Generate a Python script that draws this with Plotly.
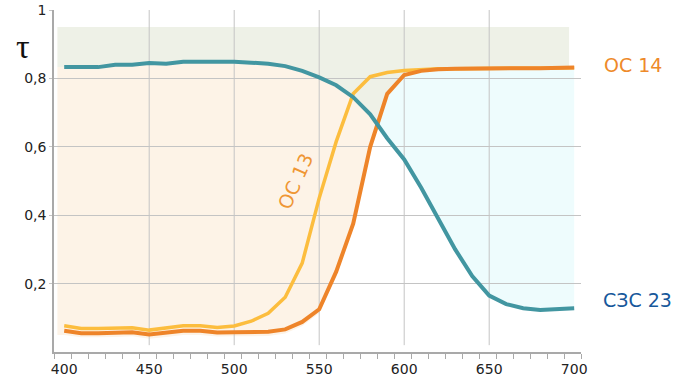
import numpy as np
import plotly.graph_objects as go

# ---- data ----
wavelength = [400, 410, 420, 430, 440, 450, 460, 470, 480, 490, 500, 510, 520, 530, 540,
              550, 560, 570, 580, 590, 600, 610, 620, 630, 640, 650, 660, 670, 680, 690, 700]
szs23 = [0.833, 0.833, 0.833, 0.840, 0.840, 0.845, 0.843, 0.849, 0.849, 0.849, 0.849, 0.846,
         0.843, 0.836, 0.822, 0.803, 0.780, 0.745, 0.695, 0.625, 0.563, 0.480, 0.390, 0.300,
         0.222, 0.165, 0.140, 0.128, 0.123, 0.125, 0.128]
os14 = [0.062, 0.055, 0.055, 0.056, 0.058, 0.051, 0.056, 0.062, 0.062, 0.057, 0.058, 0.058,
        0.059, 0.066, 0.088, 0.125, 0.235, 0.375, 0.600, 0.755, 0.810, 0.822, 0.827, 0.828,
        0.829, 0.830, 0.830, 0.830, 0.830, 0.832, 0.832]
os13 = [0.077, 0.069, 0.069, 0.070, 0.071, 0.064, 0.070, 0.077, 0.077, 0.072, 0.076, 0.090,
        0.113, 0.160, 0.260, 0.450, 0.615, 0.755, 0.805, 0.817, 0.823, 0.826, 0.828, 0.828,
        0.829, 0.830, 0.830, 0.830, 0.830, 0.831, 0.831]

x_ticks = [400, 450, 500, 550, 600, 650, 700]
x_grid = [450, 500, 550, 600, 650]
y_ticks = [0.2, 0.4, 0.6, 0.8, 1.0]
y_tick_labels = ["0,2", "0,4", "0,6", "0,8", "1"]

# ---- styles ----
C_TEAL = "#4296a1"
C_ORANGE = "#ee8429"
C_YELLOW = "#fcbd3e"
F_GREEN = "#eef1e7"
F_PEACH = "#fdf3e7"
F_CYAN = "#eefcfd"
GRID = "#c4c4c4"
AXIS = "#a9a9a9"
FILL_LEFT = 396
FILL_RIGHT = 697
FILL_TOP = 0.95
PEACH_PAD = 0.012

x = np.array(wavelength, float)
t = np.array(szs23, float)
o = np.array(os14, float)

# crossing of СЗС 23 and ОС 14
d = t - o
i = int(np.where((d[:-1] > 0) & (d[1:] <= 0))[0][0])
f = d[i] / (d[i] - d[i + 1])
xc = x[i] + f * (x[i + 1] - x[i])
yc = t[i] + f * (t[i + 1] - t[i])


def path(pts):
    return "M " + " L ".join(f"{px:.3f},{py:.4f}" for px, py in pts) + " Z"


# green: above upper envelope
env_x = np.array(list(x[: i + 1]) + [xc] + list(x[i + 1:]))
env_y = np.array(list(np.maximum(t, o)[: i + 1]) + [yc] + list(np.maximum(t, o)[i + 1:]))
mask = env_x <= FILL_RIGHT
gx = [FILL_LEFT] + list(env_x[mask]) + [FILL_RIGHT]
gy = [env_y[0]] + list(env_y[mask]) + [np.interp(FILL_RIGHT, env_x, env_y)]
green_pts = [(FILL_LEFT, FILL_TOP), (FILL_RIGHT, FILL_TOP)] + list(zip(gx[::-1], gy[::-1]))

# peach: below СЗС 23, above ОС 14, left of crossing
peach_pts = [(FILL_LEFT, t[0])] + list(zip(x[: i + 1], t[: i + 1])) + [(xc, yc)]
peach_pts += list(zip(x[: i + 1][::-1], (o[: i + 1] - PEACH_PAD)[::-1])) + [(FILL_LEFT, o[0] - PEACH_PAD)]

# cyan: above СЗС 23, below ОС 14, right of crossing
cyan_pts = [(xc, yc)] + list(zip(x[i + 1:], t[i + 1:])) + list(zip(x[i + 1:][::-1], o[i + 1:][::-1]))

shapes = []
for pts, col in [(green_pts, F_GREEN), (peach_pts, F_PEACH), (cyan_pts, F_CYAN)]:
    shapes.append(dict(type="path", path=path(pts), xref="x", yref="y",
                       fillcolor=col, line=dict(width=0), layer="below"))
for gxv in x_grid:
    shapes.append(dict(type="line", xref="x", yref="y", x0=gxv, x1=gxv, y0=0.02, y1=1.0,
                       line=dict(color=GRID, width=1), layer="between"))

fig = go.Figure()
fig.add_trace(go.Scatter(x=wavelength, y=os13, mode="lines",
                         line=dict(color=C_YELLOW, width=3.5), hoverinfo="skip"))
fig.add_trace(go.Scatter(x=wavelength, y=os14, mode="lines",
                         line=dict(color=C_ORANGE, width=4), hoverinfo="skip"))
fig.add_trace(go.Scatter(x=wavelength, y=szs23, mode="lines",
                         line=dict(color=C_TEAL, width=4), hoverinfo="skip"))

font = "DejaVu Sans, Verdana, sans-serif"
annotations = [
    dict(text="ОС 14", x=1.0987, y=0.84, xref="paper", yref="y", showarrow=False,
         xanchor="center", yanchor="middle",
         font=dict(family=font, size=19, color="#ee8a2a")),
    dict(text="СЗС 23", x=1.108, y=0.152, xref="paper", yref="y", showarrow=False,
         xanchor="center", yanchor="middle",
         font=dict(family=font, size=19, color="#17589b")),
    dict(text="ОС 13", x=536, y=0.5, xref="x", yref="y", showarrow=False, textangle=-66,
         font=dict(family=font, size=19, color="#ef9634")),
    dict(text="τ", x=-0.059, y=0.892, xref="paper", yref="y", showarrow=False,
         xanchor="center", yanchor="middle",
         font=dict(family="Liberation Serif, DejaVu Serif, serif", size=34, color="#111111")),
]

fig.update_layout(
    width=680, height=390,
    margin=dict(l=54, r=99, t=10, b=38),
    paper_bgcolor="white", plot_bgcolor="white",
    showlegend=False,
    shapes=shapes,
    annotations=annotations,
    xaxis=dict(range=[394, 704], tickvals=x_ticks, ticks="", showgrid=False, automargin=False,
               zeroline=False, showline=True, linecolor=AXIS, linewidth=1.5,
               ticklabelstandoff=3,
               tickfont=dict(family=font, size=14, color="#222222"),
               minor=dict(tick0=394, dtick=10, ticks="outside", ticklen=5,
                          tickcolor=AXIS, showgrid=False)),
    yaxis=dict(range=[0, 1.0], tickvals=y_ticks, ticktext=y_tick_labels, automargin=False,
               ticks="outside", ticklen=3, tickcolor=GRID,
               showgrid=True, gridcolor=GRID, gridwidth=1.3, zeroline=False,
               showline=True, linecolor=AXIS, linewidth=1.5,
               tickfont=dict(family=font, size=14, color="#222222")),
)

fig.write_html("out.html", config={"displayModeBar": False},
               post_script="document.body.style.margin='0';")
